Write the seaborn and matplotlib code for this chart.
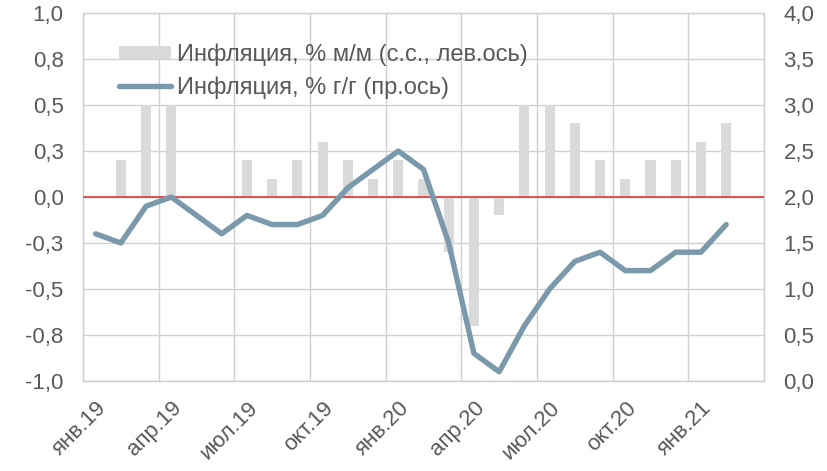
import numpy as np
import pandas as pd
import matplotlib
matplotlib.use("Agg")
import matplotlib.pyplot as plt
import seaborn as sns
from matplotlib.patches import Patch
from matplotlib.lines import Line2D

months = ["янв.19", "фев.19", "мар.19", "апр.19", "май.19", "июн.19", "июл.19", "авг.19", "сен.19",
          "окт.19", "ноя.19", "дек.19", "янв.20", "фев.20", "мар.20", "апр.20", "май.20", "июн.20",
          "июл.20", "авг.20", "сен.20", "окт.20", "ноя.20", "дек.20", "янв.21", "фев.21", "мар.21"]
mom_sa = [0.0, 0.2, 0.5, 0.5, 0.0, 0.0, 0.2, 0.1, 0.2, 0.3, 0.2, 0.1, 0.2, 0.1, -0.3, -0.7, -0.1, 0.5,
          0.5, 0.4, 0.2, 0.1, 0.2, 0.2, 0.3, 0.4, np.nan]
yoy = [1.6, 1.5, 1.9, 2.0, 1.8, 1.6, 1.8, 1.7, 1.7, 1.8, 2.1, 2.3, 2.5, 2.3, 1.5, 0.3, 0.1, 0.6,
       1.0, 1.3, 1.4, 1.2, 1.2, 1.4, 1.4, 1.7, np.nan]
left_ticks = [-1.0, -0.75, -0.5, -0.25, 0.0, 0.25, 0.5, 0.75, 1.0]
left_labels = ["-1,0", "-0,8", "-0,5", "-0,3", "0,0", "0,3", "0,5", "0,8", "1,0"]
right_ticks = [0.0, 0.5, 1.0, 1.5, 2.0, 2.5, 3.0, 3.5, 4.0]
right_labels = ["0,0", "0,5", "1,0", "1,5", "2,0", "2,5", "3,0", "3,5", "4,0"]
label_every = 3
bar_label = "Инфляция, % м/м (с.с., лев.ось)"
line_label = "Инфляция, % г/г (пр.ось)"

df = pd.DataFrame({"month": months, "pos": np.arange(len(months)), "mom": mom_sa, "yoy": yoy})

sns.set_theme(style="white")
plt.rcParams["font.family"] = ["Liberation Sans", "DejaVu Sans"]
plt.rcParams["hatch.color"] = "#c6c6c6"
plt.rcParams["hatch.linewidth"] = 0.6

TXT = "#595959"
GRID = "#d0d0d0"
BAR = "#dadada"
LINE = "#7a9aac"
FS = 16
LFS = 17

fig = plt.figure(figsize=(8.28, 4.71), dpi=100)
ax = fig.add_axes([83 / 828, 1 - 381 / 471, (764 - 83) / 828, (381 - 13) / 471])

sns.barplot(data=df, x="month", y="mom", order=months, color=BAR, width=0.4,
            saturation=1, ax=ax, zorder=2, hatch="....", linewidth=0, edgecolor=BAR)
ax.set_xlim(-0.5, len(months) - 0.5)
ax.set_ylim(-1.0, 1.0)
ax.set_yticks(left_ticks)
ax.set_yticklabels(left_labels)
ax.axhline(0, color="#e02a2a", lw=1.1, zorder=3)

ax.set_xticks(np.arange(0, len(months), label_every))
ax.set_xticklabels(months[::label_every], rotation=45, ha="right", rotation_mode="anchor")
ax.set_xticks(np.arange(-0.5, len(months), label_every), minor=True)
ax.set_axisbelow(True)
ax.grid(False)
ax.grid(True, which="minor", axis="x", color=GRID, lw=1.0)
ax.grid(True, which="major", axis="y", color=GRID, lw=1.0)
ax.tick_params(axis="x", which="both", length=0, labelsize=FS, labelcolor=TXT, pad=12)
ax.tick_params(axis="y", length=0, labelsize=FS, labelcolor=TXT, pad=14)
for s in ax.spines.values():
    s.set_color(GRID)
    s.set_linewidth(1.0)
ax.set_xlabel("")
ax.set_ylabel("")

ax2 = ax.twinx()
sns.lineplot(data=df, x="pos", y="yoy", color=LINE, lw=3.9, ax=ax2, zorder=4)
ax2.set_ylim(0, 4)
ax2.set_yticks(right_ticks)
ax2.set_yticklabels(right_labels)
ax2.tick_params(axis="y", length=0, labelsize=FS, labelcolor=TXT, pad=14)
ax2.set_xlim(-0.5, len(months) - 0.5)
ax2.grid(False)
for s in ax2.spines.values():
    s.set_visible(False)
ax2.set_ylabel("")
ax2.set_xlabel("")

handles = [Patch(facecolor=BAR, edgecolor=BAR, hatch="....", lw=0),
           Line2D([0], [0], color=LINE, lw=3.9)]
leg = ax2.legend(handles, [bar_label, line_label], loc="upper left",
                 bbox_to_anchor=(0.039, 0.943), frameon=False, fontsize=LFS,
                 handlelength=2.2, handleheight=0.5, handletextpad=0.25,
                 labelspacing=0.45, borderaxespad=0)
for t in leg.get_texts():
    t.set_color(TXT)

fig.savefig("out.png", dpi=100)
